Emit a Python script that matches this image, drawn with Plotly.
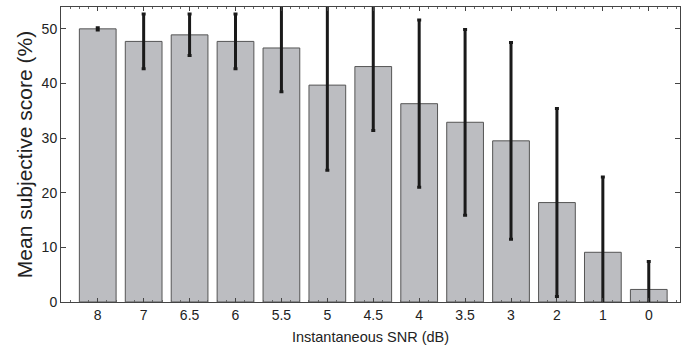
import plotly.graph_objects as go

categories = ["8", "7", "6.5", "6", "5.5", "5", "4.5", "4", "3.5", "3", "2", "1", "0"]
scores = [50.0, 47.7, 48.9, 47.7, 46.5, 39.7, 43.1, 36.3, 32.9, 29.5, 18.2, 9.1, 2.3]
errors = [0.2, 5.0, 3.8, 5.0, 8.0, 15.6, 11.7, 15.3, 17.0, 18.0, 17.2, 13.8, 5.1]
y_ticks = [0, 10, 20, 30, 40, 50]

xpos = list(range(len(categories)))

fig = go.Figure()
fig.add_trace(go.Bar(
    x=xpos, y=scores, width=0.8,
    marker=dict(color="#bcbdc1", line=dict(color="#555555", width=1)),
    error_y=dict(type="data", array=errors, visible=True,
                 color="#1a1a1a", thickness=3, width=2),
))

fig.update_layout(
    width=692, height=346,
    margin=dict(l=61, r=12, t=7, b=44),
    paper_bgcolor="white", plot_bgcolor="white",
    font=dict(family="Liberation Sans, Arial, sans-serif", color="#222222"),
    showlegend=False, bargap=0.2,
)
fig.update_xaxes(
    range=[-0.8, 12.68], tickmode="array", tickvals=xpos, ticktext=categories,
    ticks="inside", ticklen=4, tickcolor="#444", showline=True, linecolor="#444",
    linewidth=1, mirror="ticks", showgrid=False, zeroline=False, automargin=False,
    tickfont=dict(size=14),
    minor=dict(ticks="inside", ticklen=2, dtick=0.2, tickcolor="#666", showgrid=False),
    title=dict(text="Instantaneous SNR (dB)", font=dict(size=14.5), standoff=10),
)
fig.update_yaxes(
    range=[0, 54], tickmode="array", tickvals=y_ticks,
    ticks="inside", ticklen=5, tickcolor="#444", showline=True, linecolor="#444",
    linewidth=1, mirror="ticks", showgrid=False, zeroline=False, automargin=False,
    tickfont=dict(size=14),
    title=dict(text="Mean subjective score (%)", font=dict(size=21), standoff=3),
)

fig.write_html("out.html")
